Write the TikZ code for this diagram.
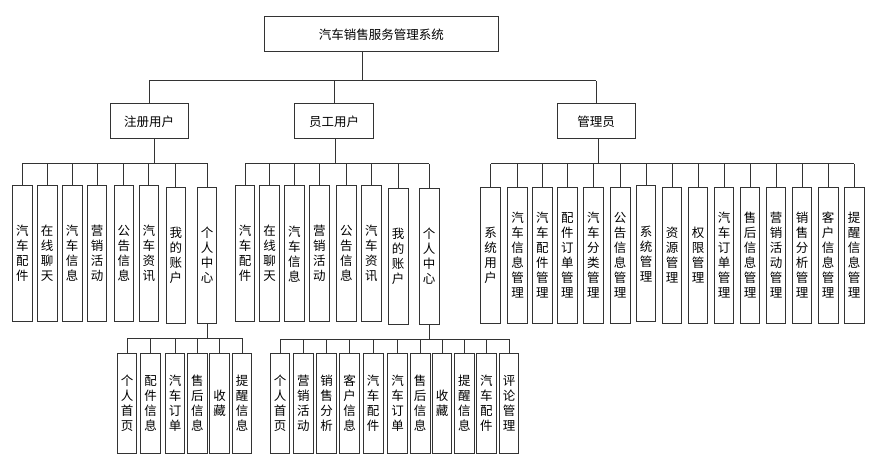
\documentclass[tikz,border=0pt]{standalone}
\usepackage{fontspec}
\newfontfamily\cjk{Noto Sans CJK SC}
\begin{document}
\begin{tikzpicture}[x=1pt,y=-1pt,
  box/.style={draw=black!80, line width=0.9pt, inner sep=0pt, font=\cjk\fontsize{12.5}{15}\selectfont, align=center},
  topbox/.style={box, minimum width=234pt, minimum height=35.3pt},
  midbox/.style={box, minimum width=78.3pt, minimum height=35.3pt},
  leaf/.style={box, minimum width=19.6pt, minimum height=136pt},
  sub/.style={box, minimum width=19.6pt, minimum height=100pt},
  conn/.style={draw=black!80, line width=0.9pt}]
\useasboundingbox (0,0) rectangle (884,473);

% level 0 and 1
\node[topbox] (root) at (381.3,34.3) {汽车销售服务管理系统};
\node[midbox] (reg) at (149.2,121.3) {注册用户};
\node[midbox] (emp) at (334,121.3) {员工用户};
\node[midbox] (adm) at (596.2,121.3) {管理员};

% registered users
\node[leaf] (r1) at (22.5,253.3) {汽\\车\\配\\件};
\node[leaf] (r2) at (47.2,253.3) {在\\线\\聊\\天};
\node[leaf] (r3) at (72.2,253.3) {汽\\车\\信\\息};
\node[leaf] (r4) at (97,253.3) {营\\销\\活\\动};
\node[leaf] (r5) at (123.9,253.3) {公\\告\\信\\息};
\node[leaf] (r6) at (148.9,253.3) {汽\\车\\资\\讯};
\node[leaf] (r7) at (175.9,255.3) {我\\的\\账\\户};
\node[leaf] (r8) at (207,255.3) {个\\人\\中\\心};

% employee users
\node[leaf] (e1) at (245,253.7) {汽\\车\\配\\件};
\node[leaf] (e2) at (269.7,253.7) {在\\线\\聊\\天};
\node[leaf] (e3) at (294.3,253.7) {汽\\车\\信\\息};
\node[leaf] (e4) at (319.3,253.7) {营\\销\\活\\动};
\node[leaf] (e5) at (346.3,253.7) {公\\告\\信\\息};
\node[leaf] (e6) at (371.3,253.7) {汽\\车\\资\\讯};
\node[leaf] (e7) at (398.2,256.2) {我\\的\\账\\户};
\node[leaf] (e8) at (429.2,256.2) {个\\人\\中\\心};

% admin
\node[leaf] (a1) at (490.5,255) {系\\统\\用\\户};
\node[leaf] (a2) at (517.5,255) {汽\\车\\信\\息\\管\\理};
\node[leaf] (a3) at (542.3,255) {汽\\车\\配\\件\\管\\理};
\node[leaf] (a4) at (567.3,255) {配\\件\\订\\单\\管\\理};
\node[leaf] (a5) at (593.3,255) {汽\\车\\分\\类\\管\\理};
\node[leaf] (a6) at (620.2,255) {公\\告\\信\\息\\管\\理};
\node[leaf] (a7) at (646,253.7) {系\\统\\管\\理};
\node[leaf] (a8) at (672,255) {资\\源\\管\\理};
\node[leaf] (a9) at (698,255) {权\\限\\管\\理};
\node[leaf] (a10) at (724,255) {汽\\车\\订\\单\\管\\理};
\node[leaf] (a11) at (750,255) {售\\后\\信\\息\\管\\理};
\node[leaf] (a12) at (776,255) {营\\销\\活\\动\\管\\理};
\node[leaf] (a13) at (802,255) {销\\售\\分\\析\\管\\理};
\node[leaf] (a14) at (828.2,255) {客\\户\\信\\息\\管\\理};
\node[leaf] (a15) at (854.2,255) {提\\醒\\信\\息\\管\\理};

% registered personal center
\node[sub] (s1) at (127,403.3) {个\\人\\首\\页};
\node[sub] (s2) at (150.5,403.3) {配\\件\\信\\息};
\node[sub] (s3) at (175,403.3) {汽\\车\\订\\单};
\node[sub] (s4) at (197.3,403.3) {售\\后\\信\\息};
\node[sub] (s5) at (219.7,403.3) {收\\藏};
\node[sub] (s6) at (242,403.3) {提\\醒\\信\\息};

% employee personal center
\node[sub] (t1) at (280,403.3) {个\\人\\首\\页};
\node[sub] (t2) at (303.3,403.3) {营\\销\\活\\动};
\node[sub] (t3) at (326.5,403.3) {销\\售\\分\\析};
\node[sub] (t4) at (349.5,403.3) {客\\户\\信\\息};
\node[sub] (t5) at (373.2,403.3) {汽\\车\\配\\件};
\node[sub] (t6) at (397.5,403.3) {汽\\车\\订\\单};
\node[sub] (t7) at (420.2,403.3) {售\\后\\信\\息};
\node[sub] (t8) at (442,403.3) {收\\藏};
\node[sub] (t9) at (464.3,403.3) {提\\醒\\信\\息};
\node[sub] (t10) at (486.3,403.3) {汽\\车\\配\\件};
\node[sub] (t11) at (509,403.3) {评\\论\\管\\理};

% bus coordinates
\coordinate (b0) at (0,80.7);
\coordinate (rb) at (0,163);
\coordinate (eb) at (0,163.7);
\coordinate (ab) at (0,163.7);
\coordinate (sb) at (0,338.3);
\coordinate (tb) at (0,339);
\coordinate (rootout) at ([xshift=-19pt]root.south);
\coordinate (regout) at ([xshift=5.5pt]reg.south);
\coordinate (empout) at ([xshift=1pt]emp.south);
\coordinate (admout) at ([xshift=2.5pt]adm.south);

% level 0 -> 1
\draw[conn] (rootout) -- (rootout |- b0);
\draw[conn] (reg.north |- b0) -- (adm.north |- b0);
\foreach \n in {reg,emp,adm} \draw[conn] (\n.north) -- (\n.north |- b0);

% registered
\draw[conn] (regout) -- (regout |- rb);
\draw[conn] (r1.north |- rb) -- (r8.north |- rb);
\foreach \i in {1,...,8} \draw[conn] (r\i.north) -- (r\i.north |- rb);

% employee
\draw[conn] (empout) -- (empout |- eb);
\draw[conn] (e1.north |- eb) -- (e8.north |- eb);
\foreach \i in {1,...,8} \draw[conn] (e\i.north) -- (e\i.north |- eb);

% admin
\draw[conn] (admout) -- (admout |- ab);
\draw[conn] (a1.north |- ab) -- (a15.north |- ab);
\foreach \i in {1,...,15} \draw[conn] (a\i.north) -- (a\i.north |- ab);

% registered personal center
\draw[conn] (r8.south) -- (r8.south |- sb);
\draw[conn] (s1.north |- sb) -- (s6.north |- sb);
\foreach \i in {1,...,6} \draw[conn] (s\i.north) -- (s\i.north |- sb);

% employee personal center
\draw[conn] (e8.south) -- (e8.south |- tb);
\draw[conn] (t1.north |- tb) -- (t11.north |- tb);
\foreach \i in {1,...,11} \draw[conn] (t\i.north) -- (t\i.north |- tb);
\end{tikzpicture}
\end{document}
